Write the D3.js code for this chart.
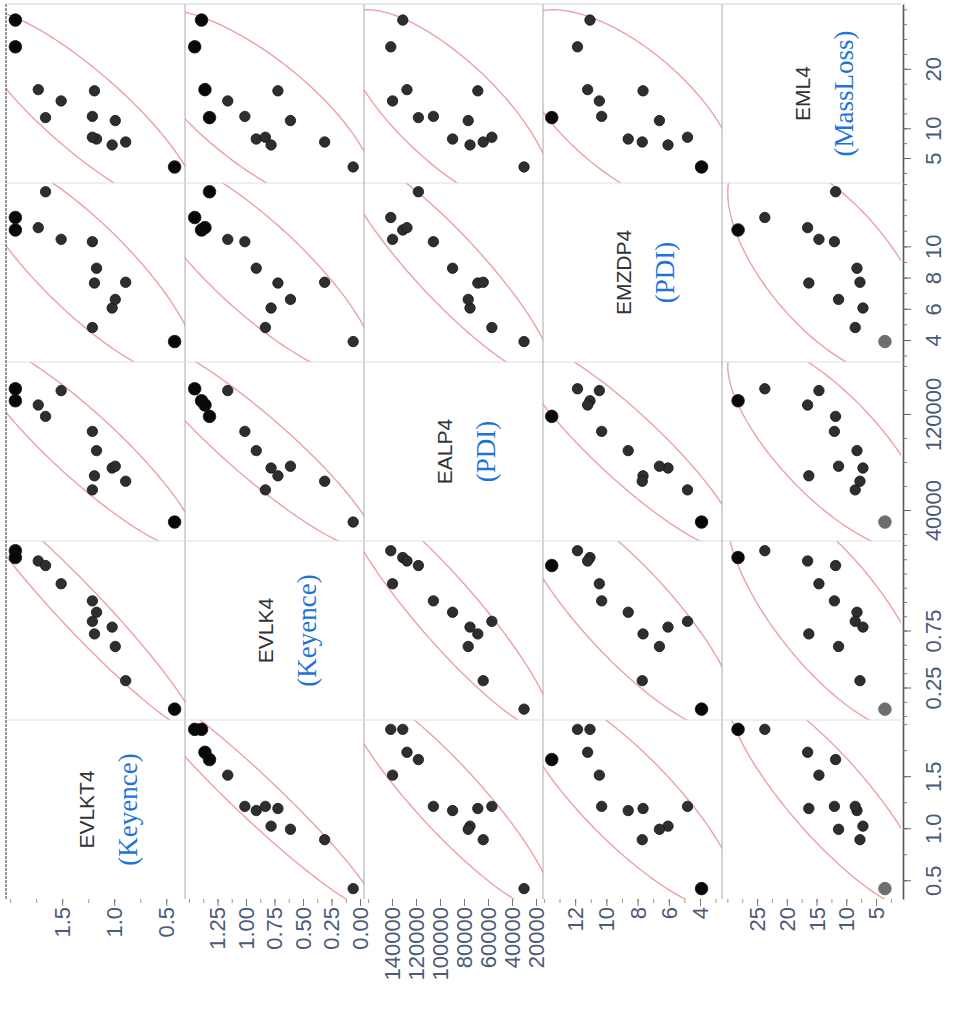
<!DOCTYPE html>
<html>
<head>
<meta charset="utf-8">
<script src="https://cdn.jsdelivr.net/npm/d3@7"></script>
<style>
  html, body { margin: 0; padding: 0; background: #fff; }
  svg { display: block; }
</style>
</head>
<body>
<svg id="chart" width="954" height="1027"></svg>
<script>
// Variables of the scatterplot matrix (the matrix is drawn turned a quarter turn counter-clockwise)
const variables = ["EVLKT4", "EVLK4", "EALP4", "EMZDP4", "EML4"];
const sources   = ["(Keyence)", "(Keyence)", "(PDI)", "(PDI)", "(MassLoss)"];

// One value per specimen, same order in every array
const EVLKT4 = [1.95, 1.95, 1.73, 1.66, 1.51, 1.21, 1.17, 1.19, 1.21, 1.02, 0.99, 0.89, 0.42];
const EVLK4  = [1.45, 1.39, 1.36, 1.32, 1.16, 1.01, 0.91, 0.72, 0.83, 0.78, 0.61, 0.31, 0.06];
const EALP4  = [141000, 131000, 127500, 118000, 139500, 105500, 89500, 68500, 56800, 75000, 76500, 64000, 30000];
const EMZDP4 = [11.85, 11.05, 11.2, 13.5, 10.45, 10.3, 8.6, 7.65, 4.8, 6.05, 6.6, 7.7, 3.9];
const EML4   = [23.7, 28.2, 16.5, 11.8, 14.6, 12.0, 8.2, 16.3, 8.5, 7.2, 11.3, 7.7, 3.5];

// Axis ranges per variable
const domains = [[0.32, 2.04], [-0.035, 1.535], [14200, 163300], [2.59, 14.06], [0.8, 30.9]];

// Labelled ticks under each column and beside each row
const bottomTicks = [
  [1.5, 1.0, 0.5],
  [1.25, 1.00, 0.75, 0.50, 0.25, 0.00],
  [140000, 120000, 100000, 80000, 60000, 40000, 20000],
  [12, 10, 8, 6, 4],
  [25, 20, 15, 10, 5]
];
const sideTicks = [
  [0.5, 1.0, 1.5],
  [0.25, 0.75],
  [40000, 120000],
  [4, 6, 8, 10],
  [5, 10, 20]
];
const minorStep = [0.25, 0.125, 20000, 1, 2.5];
const tickFormats = [".1f", ".2f", "d", "d", "d"];

// Marker emphasis per column of panels (specimen indices)
const heavyMarks = [[0, 1, 12], [0, 1, 2, 3], [], [3, 12], [1]];
const greyMarks  = [[], [], [], [], [12]];

const series = [EVLKT4, EVLK4, EALP4, EMZDP4, EML4];
const nObs = EVLKT4.length;
const nVar = variables.length;

const cell = 179, gridLeft = 6, gridTop = 4;
const gridRight = gridLeft + nVar * cell, gridBottom = gridTop + nVar * cell;
const colX = i => gridLeft + i * cell;              // image column i: variable i runs right-to-left
const rowY = k => gridTop + (nVar - 1 - k) * cell;  // variable k runs bottom-to-top in image row 4-k

const hx = series.map((s, i) => d3.scaleLinear().domain(domains[i]).range([colX(i) + cell, colX(i)]));
const vy = series.map((s, k) => d3.scaleLinear().domain(domains[k]).range([rowY(k) + cell, rowY(k)]));

const svg = d3.select("#chart");
const defs = svg.append("defs");

// 95% bivariate normal density ellipse
function ellipse(a, b, c) {
  const ma = d3.mean(a), mb = d3.mean(b);
  let saa = 0, sbb = 0, sab = 0;
  a.forEach((_, j) => {
    const da = a[j] - ma, db = b[j] - mb;
    saa += da * da; sbb += db * db; sab += da * db;
  });
  const m = a.length - 1;
  saa /= m; sbb /= m; sab /= m;
  const l11 = Math.sqrt(saa), l21 = sab / l11, l22 = Math.sqrt(Math.max(sbb - l21 * l21, 0));
  const r = Math.sqrt(c);
  return d3.range(0, 361, 2).map(deg => {
    const t = deg * Math.PI / 180, u = Math.cos(t), v = Math.sin(t);
    return [ma + r * l11 * u, mb + r * (l21 * u + l22 * v)];
  });
}
const chi2_95 = 5.991;

// panels
for (let i = 0; i < nVar; i++) {          // image column -> horizontal variable
  for (let k = 0; k < nVar; k++) {        // vertical variable
    const x0 = colX(i), y0 = rowY(k);
    const g = svg.append("g");
    const clipId = `clip-${i}-${k}`;
    defs.append("clipPath").attr("id", clipId)
      .append("rect").attr("x", x0).attr("y", y0).attr("width", cell).attr("height", cell);

    if (i === k) {
      const cy = y0 + cell / 2;
      const nx = x0 + cell * 0.45, sx = x0 + cell * 0.68;
      g.append("text")
        .attr("transform", `translate(${nx},${cy}) rotate(-90)`)
        .attr("text-anchor", "middle").attr("dy", "0.35em")
        .style("font-family", "'Liberation Sans', Arial, sans-serif")
        .style("font-size", "21px").style("fill", "#333")
        .text(variables[i]);
      g.append("text")
        .attr("transform", `translate(${sx},${cy}) rotate(-90)`)
        .attr("text-anchor", "middle").attr("dy", "0.35em")
        .style("font-family", "'Liberation Serif', 'Times New Roman', serif")
        .style("font-size", "27px").style("fill", "#1f72d8")
        .text(sources[i]);
      continue;
    }

    const pts = ellipse(series[i], series[k], chi2_95);
    g.append("path")
      .attr("clip-path", `url(#${clipId})`)
      .attr("d", d3.line().x(p => hx[i](p[0])).y(p => vy[k](p[1]))(pts))
      .attr("fill", "none")
      .attr("stroke", "#eaa2a2")
      .attr("stroke-width", 1.4);

    const obs = d3.range(nObs);
    g.append("g").attr("clip-path", `url(#${clipId})`)
      .selectAll("circle").data(obs).join("circle")
      .attr("cx", j => hx[i](series[i][j]))
      .attr("cy", j => vy[k](series[k][j]))
      .attr("r", j => heavyMarks[i].includes(j) || greyMarks[i].includes(j) ? 6.3 : 5.2)
      .attr("fill", j => greyMarks[i].includes(j) ? "#6e6e6e" : heavyMarks[i].includes(j) ? "#080808" : "#2e2e2e")
      .attr("stroke", j => greyMarks[i].includes(j) ? "#666" : "#151515")
      .attr("stroke-width", 0.8);
  }
}

// panel separators
const sep = svg.append("g");
for (let i = 1; i < nVar; i++) {
  sep.append("line").attr("x1", colX(i)).attr("x2", colX(i)).attr("y1", gridTop).attr("y2", gridBottom)
    .attr("stroke", "#a8a8a8").attr("stroke-width", 1);
  sep.append("line").attr("x1", gridLeft).attr("x2", gridRight).attr("y1", gridTop + i * cell).attr("y2", gridTop + i * cell)
    .attr("stroke", "#dedede").attr("stroke-width", 1);
}
sep.append("line").attr("x1", gridLeft).attr("x2", gridLeft).attr("y1", gridTop).attr("y2", gridBottom)
  .attr("stroke", "#555").attr("stroke-width", 1.2).attr("stroke-dasharray", "3,1");
sep.append("line").attr("x1", gridLeft).attr("x2", gridRight).attr("y1", gridTop).attr("y2", gridTop)
  .attr("stroke", "#cfcfcf").attr("stroke-width", 1);

const labelFont = "'Liberation Sans', Arial, sans-serif";
const labelColor = "#4b5a76";

// axes under each column (labels read bottom-to-top)
for (let i = 0; i < nVar; i++) {
  const minor = d3.range(Math.ceil(domains[i][0] / minorStep[i]) * minorStep[i], domains[i][1], minorStep[i]);
  svg.append("g")
    .attr("transform", `translate(0,${gridBottom})`)
    .call(d3.axisBottom(hx[i]).tickValues(minor).tickSize(4).tickFormat(""))
    .call(a => a.select(".domain").remove())
    .call(a => a.selectAll("line").attr("stroke", "#999"));
  const ax = svg.append("g")
    .attr("transform", `translate(0,${gridBottom})`)
    .call(d3.axisBottom(hx[i]).tickValues(bottomTicks[i]).tickSize(7).tickFormat(d3.format(tickFormats[i])));
  ax.select(".domain").remove();
  ax.selectAll("line").attr("stroke", "#777");
  ax.selectAll("text")
    .attr("transform", "rotate(-90)")
    .attr("text-anchor", "end")
    .attr("x", -8).attr("y", 0).attr("dy", "0.34em")
    .style("font-family", labelFont).style("font-size", "22px").style("fill", labelColor);
}

// axes beside each row on the right (labels read bottom-to-top)
const axisX = gridRight + 2;
for (let k = 0; k < nVar; k++) {
  const minor = d3.range(Math.ceil(domains[k][0] / minorStep[k]) * minorStep[k], domains[k][1], minorStep[k]);
  svg.append("g")
    .attr("transform", `translate(${axisX},0)`)
    .call(d3.axisRight(vy[k]).tickValues(minor).tickSize(4).tickSizeOuter(0).tickFormat(""))
    .call(a => a.select(".domain").attr("stroke", "#555").attr("stroke-width", 1.6))
    .call(a => a.selectAll(".tick line").attr("stroke", "#777"));
  const ax = svg.append("g")
    .attr("transform", `translate(${axisX},0)`)
    .call(d3.axisRight(vy[k]).tickValues(sideTicks[k]).tickSize(8).tickSizeOuter(0).tickFormat(d3.format(tickFormats[k])));
  ax.select(".domain").remove();
  ax.selectAll("line").attr("stroke", "#666");
  ax.selectAll("text")
    .attr("transform", "translate(22,0) rotate(-90)")
    .attr("text-anchor", "middle")
    .attr("x", 0).attr("y", 0).attr("dy", "0.71em")
    .style("font-family", labelFont).style("font-size", "22px").style("fill", labelColor);
}
</script>
</body>
</html>
